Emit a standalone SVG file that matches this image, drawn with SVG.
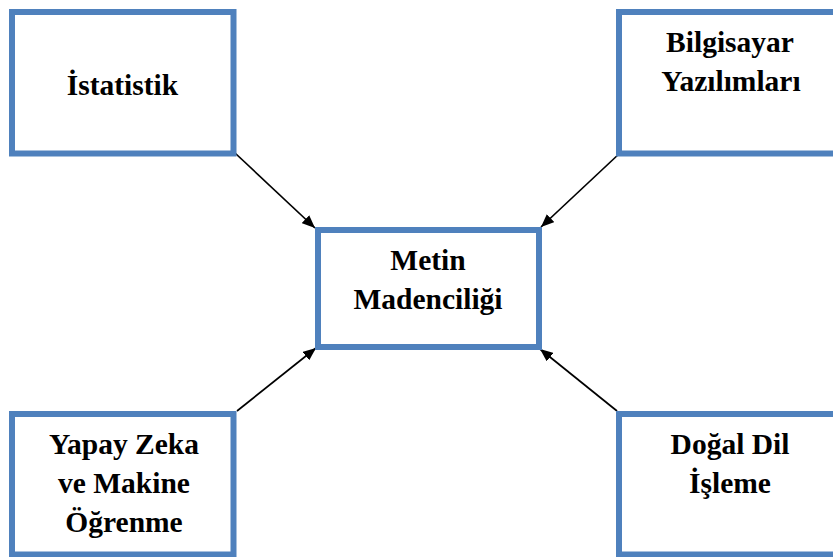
<svg xmlns="http://www.w3.org/2000/svg" width="833" height="557" viewBox="0 0 833 557">
  <defs>
    <marker id="arrow" viewBox="0 0 12 10" refX="12" refY="5" markerWidth="13" markerHeight="11" markerUnits="userSpaceOnUse" orient="auto">
      <path d="M0,0 L12,5 L0,10 Z" fill="#000"/>
    </marker>
  </defs>
  <style>
    .box { fill: #fff; stroke: #4f81bd; stroke-width: 6; }
    .label { font-family: "Liberation Serif", "Times New Roman", serif; font-weight: bold; font-size: 29.5px; fill: #000; text-anchor: middle; }
    .edge { stroke: #000; stroke-width: 1.7; fill: none; marker-end: url(#arrow); }
  </style>
  <rect width="833" height="557" fill="#fff"/>

  <g id="connectors">
    <line class="edge" x1="235" y1="153" x2="315" y2="228"/>
    <line class="edge" x1="620" y1="153" x2="541" y2="227"/>
    <line class="edge" x1="237" y1="411" x2="316" y2="348"/>
    <line class="edge" x1="617" y1="411" x2="540" y2="349"/>
  </g>

  <g id="istatistik">
    <rect class="box" x="12" y="12" width="221.5" height="141.5"/>
    <text class="label" x="122.5" y="95">İstatistik</text>
  </g>

  <g id="bilgisayar-yazilimlari">
    <rect class="box" x="619" y="12" width="222" height="141.5"/>
    <text class="label" x="730" y="52">Bilgisayar</text>
    <text class="label" x="731" y="91">Yazılımları</text>
  </g>

  <g id="metin-madenciligi">
    <rect class="box" x="318" y="230" width="221" height="117"/>
    <text class="label" x="428" y="270">Metin</text>
    <text class="label" x="428" y="309">Madenciliği</text>
  </g>

  <g id="yapay-zeka">
    <rect class="box" x="12" y="414" width="221.5" height="140.5"/>
    <text class="label" x="124" y="454">Yapay Zeka</text>
    <text class="label" x="124" y="493">ve Makine</text>
    <text class="label" x="124" y="532">Öğrenme</text>
  </g>

  <g id="dogal-dil-isleme">
    <rect class="box" x="619" y="414" width="222" height="140.5"/>
    <text class="label" x="730" y="454">Doğal Dil</text>
    <text class="label" x="730" y="493">İşleme</text>
  </g>
</svg>
